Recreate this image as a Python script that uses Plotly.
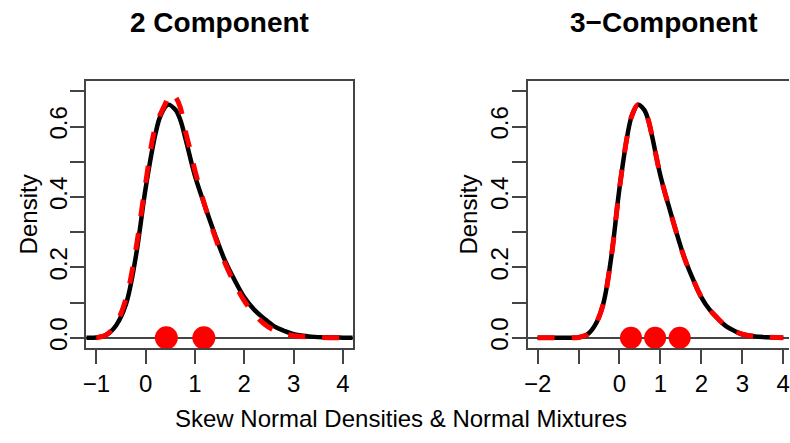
import plotly.graph_objects as go

# ---------------- data ----------------
# Skew normal density (black solid) - same in both panels
sn_x = [-2.0, -1.6, -1.2, -1.0, -0.8, -0.6, -0.4, -0.2, 0.0, 0.2, 0.3, 0.45,
        0.6, 0.7, 0.8, 1.0, 1.2, 1.4, 1.6, 1.8, 2.0, 2.2, 2.4, 2.6, 2.8,
        3.0, 3.3, 3.6, 4.0, 4.2]
sn_y = [0.0, 0.0, 0.0, 0.001, 0.008, 0.035, 0.095, 0.23, 0.425, 0.58, 0.63, 0.662,
        0.648, 0.62, 0.57, 0.46, 0.375, 0.295, 0.222, 0.165, 0.115, 0.08, 0.055,
        0.033, 0.02, 0.01, 0.004, 0.0015, 0.0003, 0.0]

# 2-component normal mixture (red dashed, left panel)
mix2_x = [-1.0, -0.8, -0.6, -0.4, -0.2, 0.0, 0.2, 0.4, 0.5, 0.6, 0.7, 0.8, 0.9,
          1.0, 1.2, 1.4, 1.6, 1.8, 2.0, 2.2, 2.4, 2.6, 2.8, 3.0, 3.5, 4.0]
mix2_y = [0.0, 0.008, 0.04, 0.11, 0.25, 0.44, 0.60, 0.665, 0.695, 0.685, 0.655,
          0.59, 0.535, 0.475, 0.375, 0.29, 0.215, 0.155, 0.105, 0.068, 0.04,
          0.022, 0.012, 0.006, 0.001, 0.0]

# 3-component normal mixture (red dashed, right panel)
mix3_x = [-2.0, -1.6, -1.2, -1.0, -0.8, -0.6, -0.4, -0.2, 0.0, 0.2, 0.3, 0.45,
          0.6, 0.7, 0.8, 1.0, 1.2, 1.4, 1.6, 1.8, 2.0, 2.2, 2.4, 2.6, 2.8,
          3.0, 3.3, 3.6, 4.0]
mix3_y = [0.0, 0.0, 0.0, 0.001, 0.008, 0.035, 0.095, 0.23, 0.425, 0.58, 0.63, 0.662,
          0.648, 0.62, 0.57, 0.46, 0.375, 0.295, 0.222, 0.165, 0.115, 0.08, 0.055,
          0.033, 0.02, 0.01, 0.004, 0.0015, 0.0003]

# component means (red dots)
comp2_means = [0.42, 1.18]
comp3_means = [0.28, 0.87, 1.47]

# axis ticks
y_tickvals = [0.0, 0.1, 0.2, 0.3, 0.4, 0.5, 0.6, 0.7]
y_ticktext = ["0.0", "", "0.2", "", "0.4", "", "0.6", ""]
x1_tickvals = [-1, 0, 1, 2, 3, 4]
x1_ticktext = ["\u22121", "0", "1", "2", "3", "4"]
x2_tickvals = [-2, -1, 0, 1, 2, 3, 4]
x2_ticktext = ["\u22122", "", "0", "1", "2", "3", "4"]

titles = ["<b>2 Component</b>", "<b>3\u2212Component</b>"]
y_label = "Density"
x_label = "Skew Normal Densities & Normal Mixtures"

# ---------------- figure ----------------
FONT = "Liberation Sans, Arial, Helvetica, sans-serif"
W, H = 790, 443
AX = "#444444"

fig = go.Figure()

line_black = dict(color="black", width=4.5, shape="spline", smoothing=1)
line_red = dict(color="#ff0000", width=5, dash="17px,17px", shape="spline", smoothing=1)

# left panel
fig.add_trace(go.Scatter(x=sn_x, y=sn_y, mode="lines", line=line_black,
                         xaxis="x", yaxis="y", showlegend=False))
fig.add_trace(go.Scatter(x=mix2_x, y=mix2_y, mode="lines", line=line_red,
                         xaxis="x", yaxis="y", showlegend=False))
fig.add_trace(go.Scatter(x=comp2_means, y=[0] * len(comp2_means), mode="markers",
                         marker=dict(color="#ff0000", size=23, line=dict(width=0)),
                         xaxis="x", yaxis="y", showlegend=False, cliponaxis=False))
# right panel
fig.add_trace(go.Scatter(x=sn_x[:-1], y=sn_y[:-1], mode="lines", line=line_black,
                         xaxis="x2", yaxis="y2", showlegend=False))
fig.add_trace(go.Scatter(x=mix3_x, y=mix3_y, mode="lines", line=line_red,
                         xaxis="x2", yaxis="y2", showlegend=False))
fig.add_trace(go.Scatter(x=comp3_means, y=[0] * len(comp3_means), mode="markers",
                         marker=dict(color="#ff0000", size=22, line=dict(width=0)),
                         xaxis="x2", yaxis="y2", showlegend=False, cliponaxis=False))

tickfont = dict(family=FONT, size=24, color="black")
common_x = dict(showgrid=False, zeroline=False, showline=True, mirror=True,
                linecolor=AX, linewidth=2, ticks="outside", ticklen=14,
                tickwidth=2, tickcolor=AX, tickfont=tickfont, fixedrange=True,
                ticklabeloverflow="allow")
common_y = dict(showgrid=False, zeroline=True, zerolinecolor=AX, zerolinewidth=2,
                showline=True, linecolor=AX, linewidth=2, ticks="outside",
                ticklen=14, tickwidth=2, tickcolor=AX, tickfont=tickfont,
                tickangle=-90, range=[-0.028, 0.728], tickmode="array",
                tickvals=y_tickvals, ticktext=y_ticktext, fixedrange=True,
                ticklabelstandoff=-6)

y_dom = [(H - 350) / H, (H - 82) / H]
x1_dom = [83 / W, 351 / W]
x2_dom = [527 / W, 1.0]

fig.update_layout(
    width=W, height=H, autosize=False,
    margin=dict(l=0, r=0, t=0, b=0),
    paper_bgcolor="white", plot_bgcolor="white",
    font=dict(family=FONT, color="black"),
    hovermode=False,
    xaxis=dict(common_x, domain=x1_dom, range=[-1.2, 4.2], anchor="y",
               tickmode="array", tickvals=x1_tickvals, ticktext=x1_ticktext),
    yaxis=dict(common_y, domain=y_dom, anchor="x", mirror=True),
    xaxis2=dict(common_x, domain=x2_dom, range=[-2.243, 4.14], anchor="y2",
                tickmode="array", tickvals=x2_tickvals, ticktext=x2_ticktext),
    yaxis2=dict(common_y, domain=y_dom, anchor="x2", mirror=False),
)

ann = []
ann.append(dict(text=titles[0], x=217 / W, y=(H - 23) / H, xref="paper", yref="paper",
                showarrow=False, xanchor="center", yanchor="middle",
                font=dict(family=FONT, size=28, color="black")))
ann.append(dict(text=titles[1], x=664 / W, y=(H - 23) / H, xref="paper", yref="paper",
                showarrow=False, xanchor="center", yanchor="middle",
                font=dict(family=FONT, size=28, color="black")))
for cx in (25, 467):
    ann.append(dict(text=y_label, x=cx / W, y=(H - 216) / H, xref="paper", yref="paper",
                    showarrow=False, xanchor="center", yanchor="middle", textangle=-90,
                    font=dict(family=FONT, size=24, color="black")))
ann.append(dict(text=x_label, x=400 / W, y=(H - 421) / H, xref="paper", yref="paper",
                showarrow=False, xanchor="center", yanchor="middle",
                font=dict(family=FONT, size=24, color="black")))
fig.update_layout(annotations=ann)

fig.write_html("out.html",
               config={"displayModeBar": False, "staticPlot": True},
               post_script="document.body.style.margin='0px';"
                           "document.body.style.overflow='hidden';")
